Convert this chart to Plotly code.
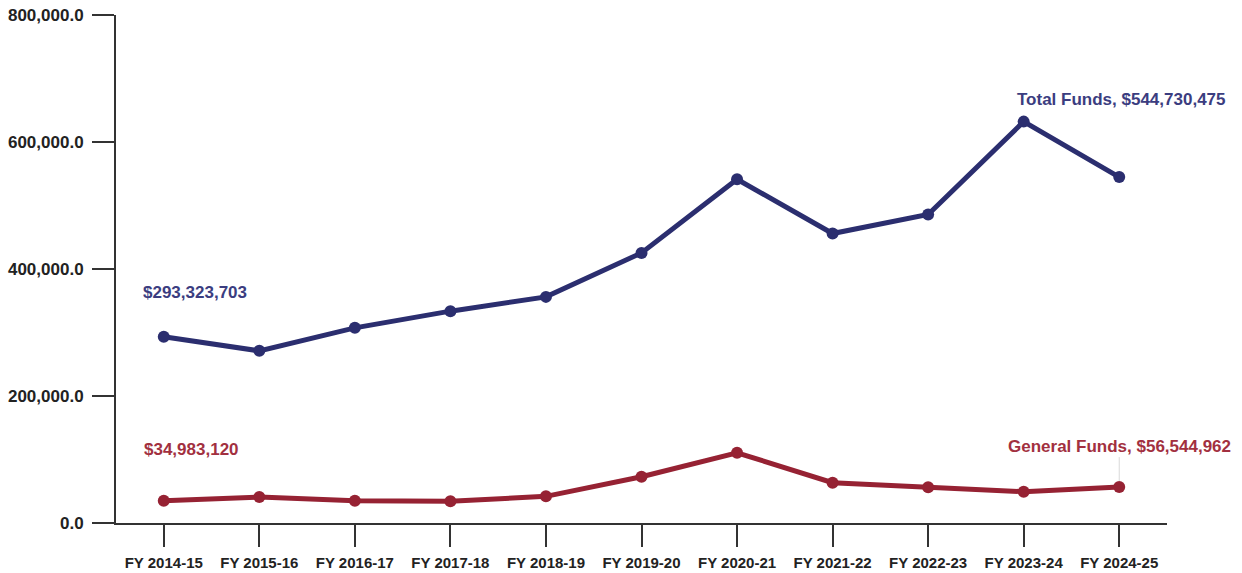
import plotly.graph_objects as go

# Fiscal years and funding levels (in thousands of dollars)
fiscal_years = ["FY 2014-15", "FY 2015-16", "FY 2016-17", "FY 2017-18", "FY 2018-19",
                "FY 2019-20", "FY 2020-21", "FY 2021-22", "FY 2022-23", "FY 2023-24",
                "FY 2024-25"]
total_funds = [293323.703, 271100, 307300, 333600, 356100, 425300, 541300,
               455900, 485800, 632100, 544730.475]
general_funds = [34983.120, 40900, 35100, 34300, 42000, 72900, 110600,
                 63400, 56200, 49300, 56544.962]

y_ticks = [0, 200000, 400000, 600000, 800000]

NAVY = "#2b2e6f"
CRIMSON = "#962233"
FONT = "Liberation Sans, Arial, sans-serif"

fig = go.Figure()
fig.add_trace(go.Scatter(
    x=fiscal_years, y=total_funds, mode="lines+markers", name="Total Funds",
    line=dict(color=NAVY, width=5), marker=dict(color=NAVY, size=12),
))
fig.add_trace(go.Scatter(
    x=fiscal_years, y=general_funds, mode="lines+markers", name="General Funds",
    line=dict(color=CRIMSON, width=5), marker=dict(color=CRIMSON, size=12),
))

label_font = dict(family=FONT, size=17, weight="bold")
fig.add_annotation(x=fiscal_years[0], y=total_funds[0], text="$293,323,703",
                   showarrow=False, xshift=31, yshift=44,
                   font=dict(label_font, color="#3b3d80"))
fig.add_annotation(x=fiscal_years[0], y=general_funds[0], text="$34,983,120",
                   showarrow=False, xshift=28, yshift=51,
                   font=dict(label_font, color="#a23040"))
fig.add_annotation(x=fiscal_years[-1], y=total_funds[-1],
                   text="Total Funds, $544,730,475",
                   showarrow=False, xshift=2, yshift=78,
                   font=dict(label_font, color="#3b3d80"))
fig.add_annotation(x=fiscal_years[-1], y=general_funds[-1],
                   text="General Funds, $56,544,962",
                   showarrow=True, arrowhead=0, arrowwidth=1, arrowcolor="#d9d9d9",
                   ax=0, ay=-41, standoff=6,
                   font=dict(label_font, color="#a23040"))

fig.update_layout(
    width=1242, height=573,
    margin=dict(l=116, r=75, t=15, b=50),
    paper_bgcolor="white", plot_bgcolor="white",
    showlegend=False,
    font=dict(family=FONT, color="#222222"),
)
fig.update_xaxes(
    type="category", range=[-0.5, 10.5], automargin=False,
    showline=True, linecolor="#333333", linewidth=2,
    ticks="outside", ticklen=22, tickwidth=2, tickcolor="#333333",
    ticklabelstandoff=3,
    showgrid=False, zeroline=False,
    tickfont=dict(family=FONT, size=15, color="#222222", weight="bold"),
)
fig.update_yaxes(
    range=[0, 800000], tickvals=y_ticks, tickformat=",.1f", automargin=False,
    showline=True, linecolor="#333333", linewidth=2,
    ticks="outside", ticklen=22, tickwidth=2, tickcolor="#333333",
    ticklabelstandoff=5,
    showgrid=False, zeroline=False,
    tickfont=dict(family=FONT, size=17, color="#222222", weight="bold"),
)

fig.write_html("out.html")
